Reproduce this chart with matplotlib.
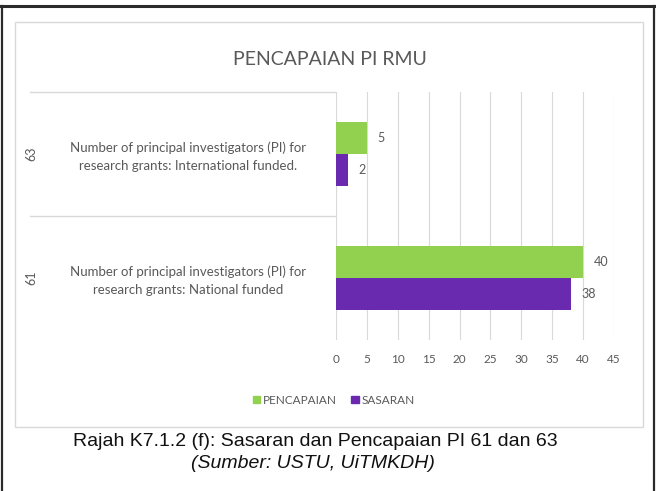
import matplotlib.pyplot as plt
from matplotlib.patches import Patch, Rectangle
from matplotlib.lines import Line2D
from matplotlib.transforms import blended_transform_factory

# data
groups = ['63', '61']
labels = ['Number of principal investigators (PI) for\nresearch grants: International funded.',
          'Number of principal investigators (PI) for\nresearch grants: National funded']
pencapaian = [5, 40]
sasaran = [2, 38]
xticks = [0, 5, 10, 15, 20, 25, 30, 35, 40, 45]

green = '#92D050'
purple = '#6A2AB0'
grey_txt = '#595959'

W, H = 656, 491
fig = plt.figure(figsize=(W / 100, H / 100), dpi=100)

def fx(px):
    return px / W

def fy(py):
    return 1 - py / H

# outer frame
fig.add_artist(Line2D([0, 1], [fy(6), fy(6)], color='#2b2b2b', lw=2.2))
fig.add_artist(Line2D([fx(2), fx(2)], [0, fy(6)], color='#2b2b2b', lw=1.6))
fig.add_artist(Line2D([fx(653.5), fx(653.5)], [0, fy(6)], color='#2b2b2b', lw=1.6))

# chart box
fig.add_artist(Rectangle((fx(15), fy(427)), fx(643) - fx(15), fy(22) - fy(427),
                         transform=fig.transFigure, fill=False, ec='#D9D9D9', lw=1))

ax = fig.add_axes([fx(336), fy(340), fx(614) - fx(336), fy(92) - fy(340)])

h = 0.26
pos = list(range(len(groups)))
ax.barh([p - h / 2 for p in pos], pencapaian, height=h, color=green, zorder=3)
ax.barh([p + h / 2 for p in pos], sasaran, height=h, color=purple, zorder=3)

for p, v in zip(pos, pencapaian):
    ax.text(v + 1.7, p - h / 2, str(v), va='center', ha='left', fontsize=9,
            color=grey_txt, family='Lato')
for p, v in zip(pos, sasaran):
    ax.text(v + 1.7, p + h / 2, str(v), va='center', ha='left', fontsize=9,
            color=grey_txt, family='Lato')

ax.set_xlim(0, 45)
ax.set_ylim(1.5, -0.5)
ax.set_xticks(xticks)
ax.set_yticks([])
ax.tick_params(axis='x', length=0, pad=10, labelsize=8.5, labelcolor=grey_txt)
for t in ax.get_xticklabels():
    t.set_family('Lato')
ax.grid(axis='x', color='#D9D9D9', lw=0.8, zorder=0)
for s in ax.spines.values():
    s.set_visible(False)

# multi-level category labels on the left
tr = blended_transform_factory(fig.transFigure, ax.transData)
for p, g, lab in zip(pos, groups, labels):
    ax.text(fx(188), p + 0.02, lab, transform=tr, ha='center', va='center',
            fontsize=9.5, color=grey_txt, family='Lato', linespacing=1.6)
    ax.text(fx(31), p, g, transform=tr, ha='center', va='center', rotation=90,
            fontsize=9, color=grey_txt, family='Lato')
for yv in [-0.5, 0.5]:
    ax.add_line(Line2D([fx(30), fx(335)], [yv, yv], transform=tr, color='#D9D9D9',
                       lw=1, clip_on=False))

fig.text(fx(330), fy(60), 'PENCAPAIAN PI RMU', ha='center', va='center',
         fontsize=14, color=grey_txt, family='Lato')

handles = [Patch(color=green, label='PENCAPAIAN'), Patch(color=purple, label='SASARAN')]
leg = fig.legend(handles=handles, loc='center', bbox_to_anchor=(fx(334), fy(400)), ncol=2,
                 frameon=False, handlelength=0.6, handleheight=0.6, handletextpad=0.3,
                 columnspacing=1.2, prop={'family': 'Lato', 'size': 8.5})
for t in leg.get_texts():
    t.set_color(grey_txt)

fig.text(fx(315), fy(441), 'Rajah K7.1.2 (f): Sasaran dan Pencapaian PI 61 dan 63',
         ha='center', va='center', fontsize=14, family='Liberation Sans', color='#111111')
fig.text(fx(313), fy(463), '(Sumber: USTU, UiTMKDH)', ha='center', va='center',
         fontsize=14, family='Liberation Sans', style='italic', color='#111111')

fig.savefig('out.png', dpi=100)
